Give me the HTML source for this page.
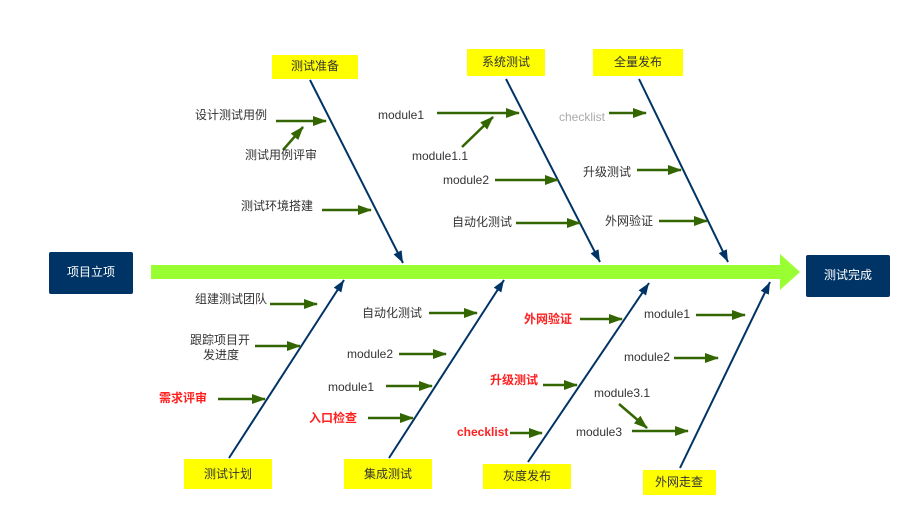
<!DOCTYPE html>
<html><head><meta charset="utf-8"><style>
html,body{margin:0;padding:0;background:#fff;}
svg{display:block;}
text{font-family:"Liberation Sans","Noto Sans CJK SC",sans-serif;font-size:12px;fill:#333;dominant-baseline:middle;}
.r{fill:#ff2020;font-weight:bold;}
.w{fill:#fff;}
.g{fill:#aaa;}
</style></head><body>
<svg width="924" height="529" viewBox="0 0 924 529" xmlns="http://www.w3.org/2000/svg">
<defs>
<marker id="ga" markerWidth="14" markerHeight="10" refX="13" refY="5" orient="auto" markerUnits="userSpaceOnUse" viewBox="0 0 14 10"><path d="M0,0 L14,5 L0,10 z" fill="#336600"/></marker>
<marker id="ba" markerWidth="12" markerHeight="16" refX="16" refY="6" orient="auto" markerUnits="userSpaceOnUse" viewBox="0 0 16 12"><path d="M0,0 L16,6 L0,12 z" fill="#003366"/></marker>
</defs>
<rect x="151" y="265" width="635" height="14" fill="#99ff33"/>
<polygon points="780,254 800,272 780,290" fill="#99ff33"/>
<rect x="49" y="252" width="84" height="42" rx="2" fill="#003366"/>
<text x="91" y="273" class="w" text-anchor="middle">项目立项</text>
<rect x="806" y="255" width="84" height="42" rx="2" fill="#003366"/>
<text x="848" y="276" class="w" text-anchor="middle">测试完成</text>
<g stroke="#003366" stroke-width="2" fill="none" marker-end="url(#ba)">
<line x1="310" y1="80" x2="403" y2="263"/>
<line x1="506" y1="79" x2="600" y2="262"/>
<line x1="639" y1="79" x2="728" y2="262"/>
<line x1="229" y1="458" x2="344" y2="280"/>
<line x1="389" y1="458" x2="504" y2="280"/>
<line x1="528" y1="462" x2="649" y2="283"/>
<line x1="680" y1="468" x2="770" y2="282"/>
</g>
<g fill="#ffff00">
<rect x="272" y="55" width="86" height="24"/>
<rect x="467" y="49" width="78" height="27"/>
<rect x="593" y="49" width="90" height="27"/>
<rect x="184" y="459" width="88" height="30"/>
<rect x="344" y="459" width="88" height="30"/>
<rect x="483" y="464" width="88" height="25"/>
<rect x="643" y="470" width="73" height="25"/>
</g>
<text x="315" y="67" text-anchor="middle">测试准备</text>
<text x="506" y="63" text-anchor="middle">系统测试</text>
<text x="638" y="63" text-anchor="middle">全量发布</text>
<text x="228" y="475" text-anchor="middle">测试计划</text>
<text x="388" y="475" text-anchor="middle">集成测试</text>
<text x="527" y="477" text-anchor="middle">灰度发布</text>
<text x="679" y="483" text-anchor="middle">外网走查</text>
<g stroke="#336600" stroke-width="2.5" marker-end="url(#ga)">
<line x1="276" y1="121" x2="326" y2="121"/>
<line x1="283" y1="150" x2="303" y2="127"/>
<line x1="322" y1="210" x2="371" y2="210"/>
<line x1="437" y1="113" x2="519" y2="113"/>
<line x1="462" y1="147" x2="493" y2="117"/>
<line x1="495" y1="180" x2="558" y2="180"/>
<line x1="516" y1="223" x2="580" y2="223"/>
<line x1="609" y1="113" x2="646" y2="113"/>
<line x1="637" y1="170" x2="681" y2="170"/>
<line x1="659" y1="221" x2="707" y2="221"/>
<line x1="270" y1="304" x2="317" y2="304"/>
<line x1="255" y1="346" x2="300" y2="346"/>
<line x1="218" y1="399" x2="265" y2="399"/>
<line x1="429" y1="313" x2="477" y2="313"/>
<line x1="399" y1="354" x2="446" y2="354"/>
<line x1="386" y1="386" x2="432" y2="386"/>
<line x1="368" y1="418" x2="413" y2="418"/>
<line x1="580" y1="319" x2="622" y2="319"/>
<line x1="543" y1="385" x2="577" y2="385"/>
<line x1="510" y1="433" x2="542" y2="433"/>
<line x1="696" y1="315" x2="745" y2="315"/>
<line x1="674" y1="358" x2="718" y2="358"/>
<line x1="619" y1="404" x2="647" y2="428"/>
<line x1="632" y1="431" x2="688" y2="431"/>
</g>
<text x="195" y="116">设计测试用例</text>
<text x="245" y="156">测试用例评审</text>
<text x="241" y="207">测试环境搭建</text>
<text x="378" y="116">module1</text>
<text x="412" y="157">module1.1</text>
<text x="443" y="181">module2</text>
<text x="452" y="223">自动化测试</text>
<text x="559" y="118" class="g">checklist</text>
<text x="583" y="173">升级测试</text>
<text x="605" y="222">外网验证</text>
<text x="195" y="300">组建测试团队</text>
<text x="190" y="341">跟踪项目开</text>
<text x="203" y="356">发进度</text>
<text x="159" y="399" class="r">需求评审</text>
<text x="362" y="314">自动化测试</text>
<text x="347" y="355">module2</text>
<text x="328" y="388">module1</text>
<text x="309" y="419" class="r">入口检查</text>
<text x="524" y="320" class="r">外网验证</text>
<text x="490" y="381" class="r">升级测试</text>
<text x="457" y="433" class="r">checklist</text>
<text x="644" y="315">module1</text>
<text x="624" y="358">module2</text>
<text x="594" y="394">module3.1</text>
<text x="576" y="433">module3</text>
</svg>
</body></html>
